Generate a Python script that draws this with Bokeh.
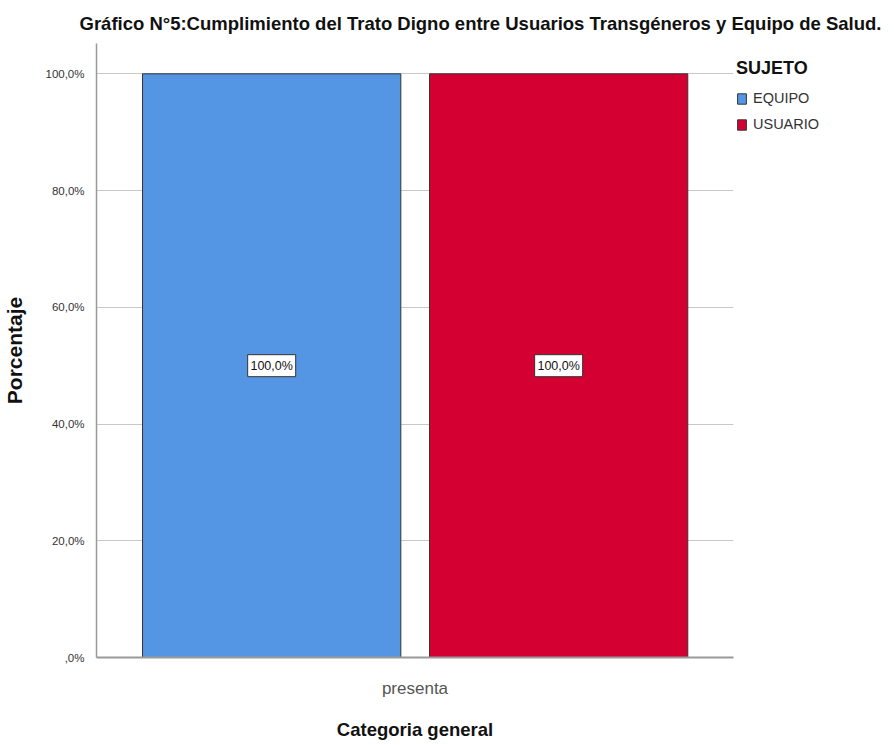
from bokeh.plotting import figure
from bokeh.models import (FactorRange, Range1d, ColumnDataSource, FixedTicker, Legend,
                          LegendItem, LabelSet, Title)
from bokeh.core.properties import value
from bokeh.transform import dodge
from bokeh.embed import file_html
from bokeh.resources import INLINE

# ---- data ----
category = ["presenta"]
subjects = ["EQUIPO", "USUARIO"]
percent = [100.0, 100.0]
value_labels = ["100,0%", "100,0%"]
colors = ["#5596E4", "#D50032"]
y_ticks = [0, 20, 40, 60, 80, 100]
y_tick_labels = [",0%", "20,0%", "40,0%", "60,0%", "80,0%", "100,0%"]

FONT = "Liberation Sans"

p = figure(frame_width=637, frame_height=614, output_backend="svg", toolbar_location=None,
           x_range=FactorRange(*category, range_padding=0),
           y_range=Range1d(0, 105.2),
           min_border_left=88, min_border_right=153, min_border_top=43, min_border_bottom=80)
p.title = None
p.add_layout(Title(text="Gráfico N°5:Cumplimiento del Trato Digno entre Usuarios Transgéneros y Equipo de Salud.",
                   text_font=FONT, text_font_size="18.5px", text_font_style="bold",
                   text_color="#111111", align="left", offset=-17, standoff=20), "above")
p.outline_line_color = None
p.background_fill_color = "white"
p.border_fill_color = "white"

offsets = [-0.225, 0.2255]
renderers = []
for subj, val, lab, col, off in zip(subjects, percent, value_labels, colors, offsets):
    src = ColumnDataSource(dict(x=category, top=[val], mid=[val / 2], lab=[lab]))
    xd = dodge("x", off, range=p.x_range)
    r = p.vbar(x=xd, top="top", width=0.4055, source=src,
               fill_color=col, line_color="#333333", line_width=1)
    renderers.append(r)
    p.rect(x=xd, y="mid", width=48, height=22, width_units="screen", height_units="screen",
           source=src, fill_color="white", line_color="#333333", line_width=1)
    ls = LabelSet(x=xd, y="mid", text="lab", source=src,
                  text_align="center", text_baseline="middle", text_font=value(FONT),
                  text_font_size=value("12.5px"), text_color="#111111")
    p.add_layout(ls)

# axes
p.yaxis.ticker = FixedTicker(ticks=y_ticks)
p.yaxis.major_label_overrides = {t: l for t, l in zip(y_ticks, y_tick_labels)}
p.yaxis.major_tick_line_color = None
p.yaxis.minor_tick_line_color = None
p.yaxis.axis_line_color = "#999999"
p.yaxis.axis_line_width = 1.5
p.yaxis.major_label_text_font = FONT
p.yaxis.major_label_text_font_size = "11.5px"
p.yaxis.major_label_text_color = "#333333"
p.yaxis.major_label_standoff = 6
p.yaxis.axis_label = "Porcentaje"
p.yaxis.axis_label_text_font = FONT
p.yaxis.axis_label_text_font_size = "21px"
p.yaxis.axis_label_text_font_style = "bold"
p.yaxis.axis_label_text_color = "#111111"
p.yaxis.axis_label_standoff = 16

p.xaxis.major_tick_line_color = None
p.xaxis.axis_line_color = "#999999"
p.xaxis.axis_line_width = 2
p.xaxis.major_label_text_font = FONT
p.xaxis.major_label_text_font_size = "17px"
p.xaxis.major_label_text_color = "#555555"
p.xaxis.major_label_standoff = 15
p.xaxis.axis_label = "Categoria general"
p.xaxis.axis_label_text_font = FONT
p.xaxis.axis_label_text_font_size = "18.5px"
p.xaxis.axis_label_text_font_style = "bold"
p.xaxis.axis_label_text_color = "#111111"
p.xaxis.axis_label_standoff = 18

p.xgrid.grid_line_color = None
p.ygrid.ticker = FixedTicker(ticks=y_ticks)
p.ygrid.grid_line_color = "#c8c8c8"
p.ygrid.grid_line_width = 1

legend = Legend(items=[LegendItem(label=s, renderers=[r]) for s, r in zip(subjects, renderers)],
                title="SUJETO", location=(3, 525),
                title_text_font=FONT, title_text_font_size="18px", title_text_font_style="bold",
                title_text_color="#111111", title_standoff=11,
                label_text_font=FONT, label_text_font_size="14.5px", label_text_color="#333333",
                glyph_width=11, glyph_height=13, label_standoff=6, spacing=10,
                padding=0, margin=0, border_line_color=None, background_fill_alpha=0,
                label_height=16)
p.add_layout(legend, "right")

open("out.html", "w").write(file_html(p, INLINE))
